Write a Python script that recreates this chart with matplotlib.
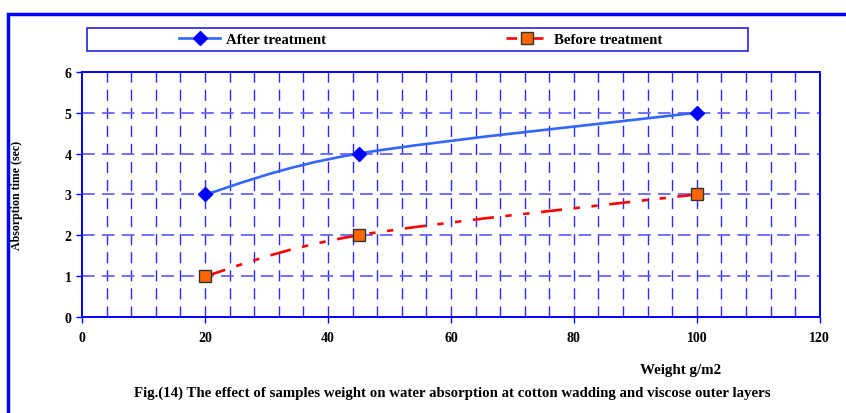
import matplotlib.pyplot as plt
from matplotlib.path import Path
from matplotlib.patches import PathPatch, Rectangle
from matplotlib.lines import Line2D
import numpy as np

weight = [20, 45, 100]
after_treatment = [3, 4, 5]
before_treatment = [1, 2, 3]

x_ticks = [0, 20, 40, 60, 80, 100, 120]
y_ticks = [0, 1, 2, 3, 4, 5, 6]

plt.rcParams['font.family'] = ['Liberation Serif', 'DejaVu Serif']
plt.rcParams['font.weight'] = 'bold'


def smooth_path(xs, ys):
    # bezier curve through the points, like a spreadsheet "smoothed line"
    pts = np.column_stack([xs, ys]).astype(float)
    n = len(pts)
    verts = [pts[0]]
    codes = [Path.MOVETO]
    for i in range(n - 1):
        p_prev = pts[max(i - 1, 0)]
        p0, p1 = pts[i], pts[i + 1]
        p_next = pts[min(i + 2, n - 1)]
        c1 = p0 + (p1 - p_prev) / 6
        c2 = p1 - (p_next - p0) / 6
        verts += [c1, c2, p1]
        codes += [Path.CURVE4] * 3
    return Path(verts, codes)


fig = plt.figure(figsize=(8.46, 4.14), dpi=100)
ax = fig.add_axes([0.097, 0.232, 0.872, 0.592])

red_dash = (0, (8.0, 4.4, 2.4, 4.4, 2.4, 4.4))

ax.add_patch(PathPatch(smooth_path(weight, after_treatment), fill=False,
                       edgecolor='#3366ff', lw=1.9, zorder=3))
ax.add_patch(PathPatch(smooth_path(weight, before_treatment), fill=False,
                       edgecolor='#ff0000', lw=1.9, linestyle=red_dash, zorder=3))
ax.plot(weight, after_treatment, linestyle='none', marker='D', ms=7,
        color='#0000ff', zorder=4)
ax.plot(weight, before_treatment, linestyle='none', marker='s', ms=8,
        markerfacecolor='#ff6600', markeredgecolor='#333333', mew=1, zorder=4)

ax.set_xlim(0, 120)
ax.set_ylim(0, 6)
ax.set_xticks(x_ticks)
ax.set_yticks(y_ticks)
ax.tick_params(labelsize=10, colors='#0000ff', labelcolor='black', length=4, width=1)
for lbl in ax.get_xticklabels() + ax.get_yticklabels():
    lbl.set_fontweight('bold')
ax.tick_params(axis='x', pad=6)

for s in ax.spines.values():
    s.set_color('#0000ff')
    s.set_linewidth(1.4)

# dashed grid
for gx in np.arange(4, 120, 4):
    ax.axvline(gx, color='#2a2aff', lw=1, linestyle=(0, (8, 5)), zorder=1)
for gy in y_ticks[1:-1]:
    ax.axhline(gy, color='#6666ff', lw=1.3, linestyle=(0, (7, 4)), zorder=1)

ax.set_ylabel('Absorption time (sec)', fontsize=8.6, fontweight='bold')
ax.yaxis.set_label_coords(-0.08, 0.5)

fig.text(0.805, 0.096, 'Weight g/m2', fontsize=10.8, fontweight='bold', ha='center')
fig.text(0.535, 0.041, 'Fig.(14) The effect of samples weight on water absorption at '
         'cotton wadding and viscose outer layers', fontsize=10.7, fontweight='bold',
         ha='center')

# legend with its own box
fig.add_artist(Rectangle((0.103, 0.874), 0.781, 0.056, transform=fig.transFigure,
                         fill=False, edgecolor='#2222dd', lw=1.2))
handles = [
    Line2D([], [], color='#3366ff', lw=1.9, marker='D', ms=7,
           markerfacecolor='#0000ff', markeredgecolor='#0000ff'),
    Line2D([], [], color='#ff0000', lw=1.9, linestyle=(0, (4, 2, 2, 2)), marker='s', ms=8,
           markerfacecolor='#ff6600', markeredgecolor='#333333'),
]
fig.legend(handles, ['After treatment', 'Before treatment'], ncol=2,
           loc='center', bbox_to_anchor=(0.497, 0.902), frameon=False,
           prop={'size': 10.7, 'weight': 'bold'}, handlelength=2.8,
           columnspacing=12.1, handletextpad=0.4)

# outer frame running off the right and bottom edges
fig.add_artist(Rectangle((0.009, -0.1), 1.2, 1.064, transform=fig.transFigure,
                         fill=False, edgecolor='#0000ff', lw=2.5))

fig.savefig('out.png', dpi=100)
